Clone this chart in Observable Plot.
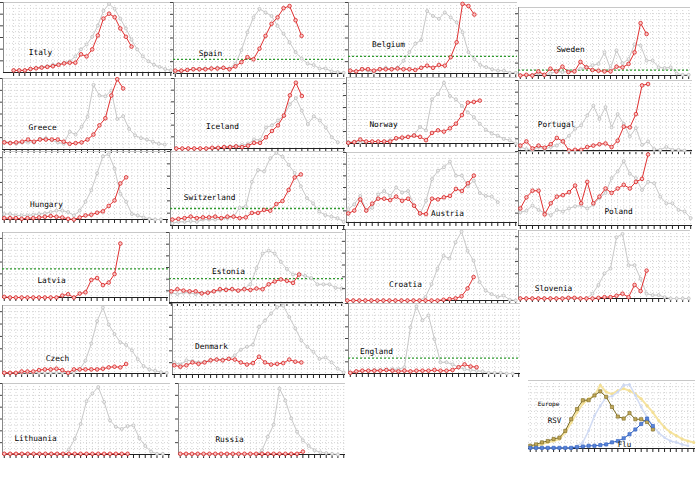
<!DOCTYPE html>
<html><head><meta charset="utf-8">
<script src="https://cdn.jsdelivr.net/npm/d3@7"></script>
<script src="https://cdn.jsdelivr.net/npm/@observablehq/plot@0.6"></script>
<style>
body{margin:0;background:#fff}
#wrap{position:relative;width:700px;height:500px;overflow:hidden;background:#fff}
#wrap svg{position:absolute}
</style>
</head><body><div id="wrap"></div>
<script>
// ---- data: grey = previous season, red = current season (% of panel scale) ----
const italyPrev = [3,3,3,5,6,8,9,11,12,14,16,23,33,40,51,67,88,98,91,77,63,47,33,23,16,11,8,5,3];
const italyCur  = [3,3,3,5,6,7,8,9,11,13,14,14,26,23,33,53,77,84,79,63,51,37];
const spainPrev = [2,3,5,6,6,7,7,8,8,7,14,33,58,79,91,86,81,67,56,44,30,21,14,12,7,7,3,2,1];
const spainCur  = [4,4,5,6,6,6,7,7,8,6,10,16,23,20,35,53,70,79,92,95,75,53];
const belgiumPrev = [4,3,6,4,1,6,8,6,8,18,30,42,47,88,81,77,86,79,72,58,30,20,12,9,6,4,4,1,1];
const belgiumCur  = [4,3,6,6,4,6,6,6,7,6,6,5,8,11,8,12,11,23,44,98,95,83];
const swedenPrev = [0,0,1,3,1,3,6,5,6,7,10,12,15,17,34,10,37,18,24,46,44,22,22,12,11,12,3,1,1];
const swedenCur  = [0,1,0,6,1,10,6,13,5,6,20,12,8,7,6,6,13,12,17,34,77,61];
const greecePrev = [11,10,8,10,11,10,15,16,13,10,8,25,21,32,46,91,76,75,83,43,47,29,20,16,14,11,8,7];
const greeceCur  = [10,9,10,11,14,11,14,14,14,14,11,8,9,10,14,21,34,44,76,99,86];
const icelandPrev = [0,0,0,0,0,0,1,1,2,3,4,5,6,13,12,30,33,40,47,63,72,54,35,46,40,30,16,9];
const icelandCur  = [0,0,0,0,0,0,1,1,2,2,3,2,4,8,8,16,25,33,47,76,94,75];
const norwayPrev = [2,3,2,3,3,3,3,5,7,8,10,13,25,20,67,75,92,72,67,57,47,40,30,21,15,12,7,5,0];
const norwayCur  = [1,2,6,3,3,3,3,3,8,9,10,12,10,5,16,20,18,23,30,43,62,63,65];
const portugalPrev = [5,2,0,5,2,5,7,14,21,31,36,50,64,45,62,33,52,38,20,32,8,13,2,1,5,1,1,0];
const portugalCur  = [7,13,3,7,4,9,18,13,0,1,1,5,7,9,10,5,14,34,33,52,93,95];
const hungaryPrev = [8,8,6,6,6,7,8,9,11,13,13,11,6,13,26,43,68,93,96,75,38,26,8,6,3,1,0,0];
const hungaryCur  = [2,2,2,1,2,2,3,4,5,4,3,1,0,3,6,7,10,12,20,28,53,62];
const switzerlandPrev = [3,5,5,6,5,8,8,8,9,10,12,24,26,59,75,73,91,98,93,82,71,53,37,30,19,14,12,10,5];
const switzerlandCur  = [8,9,10,12,10,11,11,12,10,12,12,10,11,17,17,21,20,29,33,48,65,69];
const austriaPrev = [19,26,38,17,21,40,45,38,50,43,45,24,12,31,62,74,79,87,67,67,52,60,42,38,37,29];
const austriaCur  = [13,17,33,17,27,34,34,32,37,31,34,24,13,12,34,33,36,38,48,45,56,67];
const polandPrev = [18,20,27,21,17,14,21,19,23,26,27,23,28,37,44,64,73,87,70,64,48,59,57,39,30,30,21,19,10];
const polandCur  = [23,38,47,47,15,30,39,41,45,54,30,59,30,39,50,44,50,55,50,59,63,96];
const latviaPrev = [];
const latviaCur  = [1,0,0,0,0,0,0,0,0,0,3,5,0,6,8,27,30,19,23,36,83];
const estoniaPrev = [14,12,14,14,12,14,14,16,17,19,19,17,20,26,49,70,74,70,58,48,40,40,38,35,26,26,26,21,20];
const estoniaCur  = [16,19,17,16,16,13,14,16,19,18,19,17,19,18,20,19,26,30,33,31,28,40];
const croatiaPrev = [0,0,0,0,0,0,0,0,0,0,0,0,0,5,23,45,63,59,82,97,70,56,26,14,9,5,7,1,0];
const croatiaCur  = [0,0,0,0,0,0,0,0,0,0,0,0,0,0,0,0,1,2,3,6,17,33];
const sloveniaPrev = [0,0,0,0,0,0,0,0,0,0,0,0,7,20,37,44,90,95,49,49,29,7,5,5,2,0,0,0,0];
const sloveniaCur  = [0,0,0,0,0,0,0,0,1,1,0,0,0,1,2,2,4,7,2,20,11,41];
const czechPrev = [1,1,1,1,1,1,1,1,1,1,1,1,1,6,19,44,77,97,72,58,46,42,34,21,11,6,4,2,1];
const czechCur  = [1,1,1,3,3,3,5,6,6,7,5,1,6,6,6,6,6,7,9,10,9,14];
const denmarkPrev = [17,14,20,19,17,18,20,21,21,22,27,35,39,42,67,76,86,95,97,81,65,48,39,32,22,24,17,8,3];
const denmarkCur  = [13,11,13,17,15,17,20,21,20,22,21,17,14,16,25,17,14,15,16,21,18,17];
const englandPrev = [1,3,4,4,5,5,5,6,6,9,66,96,76,83,49,16,16,13,9,6,5,4,3,1,1,1,0,0];
const englandCur  = [1,3,4,4,4,4,5,4,3,4,3,4,4,4,5,4,4,5,9,13,10,9];
const lithuaniaPrev = [1,1,1,1,1,1,1,1,1,1,1,7,22,43,75,86,95,74,48,39,36,40,41,23,12,4,1,1];
const lithuaniaCur  = [1,1,1,1,1,1,1,1,1,1,1,1,1,1,1,1,1,1,1,1,1,1];
const russiaPrev = [0,0,0,0,0,0,0,0,0,0,0,0,0,0,6,25,42,93,76,51,32,20,12,6,3,2,1,0];
const russiaCur  = [1,1,1,1,1,1,1,1,1,1,1,1,1,1,1,1,1,1,1,1,1,4];
// Europe summary
const europeRsvCur  = [4,6,9,11,14,16,26,43,58,71,71,78,84,76,61,47,44,52,43,43,39,28];
const europeRsvPrev = [3,4,6,9,11,14,24,38,53,66,73,78,93,83,80,85,88,85,80,73,63,53,41,31,24,19,14,11,9];
const europeFluPrev = [1,1,1,1,1,1,1,1,4,9,26,48,63,75,77,83,93,94,78,61,46,33,23,16,11,9,6,4];
const europeFluCur  = [1,1,1,1,1,1,1,1,2,3,4,4,5,6,9,11,15,21,28,36,44,33];
// thresholds (green dotted lines)
const thresholdNames  = ["Spain","Belgium","Sweden","Switzerland","Latvia","Estonia","England"];
const thresholdValues = [20,24,8,23,44,34,22];
const weeks = d3.range(0, 29);

// ---- layout (page pixels) ----
const panels = [
 {name:"Italy", prev:italyPrev, cur:italyCur, L:3,T:2,R:172,B:72, lx:40,ly:49, x0:-1.8},
 {name:"Spain", prev:spainPrev, cur:spainCur, L:173,T:2,R:345,B:73, lx:210,ly:50},
 {name:"Belgium", prev:belgiumPrev, cur:belgiumCur, L:348,T:2,R:517,B:73, lx:388,ly:41},
 {name:"Sweden", prev:swedenPrev, cur:swedenCur, L:518,T:7,R:690,B:75, lx:570,ly:46},
 {name:"Greece", prev:greecePrev, cur:greeceCur, L:2,T:78,R:172,B:149, lx:42,ly:124},
 {name:"Iceland", prev:icelandPrev, cur:icelandCur, L:174,T:78,R:345,B:148, lx:222,ly:123},
 {name:"Norway", prev:norwayPrev, cur:norwayCur, L:346,T:77,R:517,B:143, lx:383,ly:121},
 {name:"Portugal", prev:portugalPrev, cur:portugalCur, L:518,T:80,R:692,B:150, lx:556,ly:121},
 {name:"Hungary", prev:hungaryPrev, cur:hungaryCur, L:2,T:151,R:168,B:219, lx:46,ly:201},
 {name:"Switzerland", prev:switzerlandPrev, cur:switzerlandCur, L:170,T:151,R:345,B:225, lx:209,ly:194},
 {name:"Austria", prev:austriaPrev, cur:austriaCur, L:346,T:152,R:517,B:222, lx:447,ly:210},
 {name:"Poland", prev:polandPrev, cur:polandCur, L:518,T:151,R:692,B:225, lx:618,ly:208},
 {name:"Latvia", prev:latviaPrev, cur:latviaCur, L:2,T:232,R:168,B:297, lx:51,ly:277},
 {name:"Estonia", prev:estoniaPrev, cur:estoniaCur, L:169,T:232,R:343,B:302, lx:228,ly:268},
 {name:"Croatia", prev:croatiaPrev, cur:croatiaCur, L:345,T:229,R:517,B:300, lx:405,ly:281},
 {name:"Slovenia", prev:sloveniaPrev, cur:sloveniaCur, L:518,T:230,R:690,B:298, lx:553,ly:285},
 {name:"Czech", prev:czechPrev, cur:czechCur, L:2,T:305,R:168,B:373, lx:57,ly:355},
 {name:"Denmark", prev:denmarkPrev, cur:denmarkCur, L:172,T:303,R:345,B:374, lx:211,ly:343},
 {name:"England", prev:englandPrev, cur:englandCur, L:348,T:303,R:520,B:373, lx:376,ly:348},
 {name:"Lithuania", prev:lithuaniaPrev, cur:lithuaniaCur, L:2,T:383,R:170,B:454, lx:35,ly:435},
 {name:"Russia", prev:russiaPrev, cur:russiaCur, L:178,T:383,R:345,B:454, lx:229,ly:436}
];

const wrap = document.getElementById("wrap");
const font = "'DejaVu Sans Mono', monospace";
const toRows = arr => arr.map((v, i) => ({i, v}));

function frameMarks(p, x0, leftAxis) {
  const n = Math.max(2, Math.round((p.B - p.T) / 6));
  const gy = d3.range(1, n + 1).map(i => i * 100 / n);
  const ay = gy.filter((d, i) => i % 2 === 1);
  const m = [
    Plot.gridX({ticks: weeks, stroke: "#d4d4d4", strokeOpacity: 1, strokeDasharray: "1,2"}),
    Plot.gridY({ticks: gy, stroke: "#d4d4d4", strokeOpacity: 1, strokeDasharray: "1,2"}),
    Plot.ruleY([100], {stroke: "#c8c8c8"}),
    Plot.axisX({ticks: weeks, tickSize: 4, tickFormat: () => "", label: null, stroke: "#222"}),
    Plot.ruleY([0], {stroke: "#222"})
  ];
  if (leftAxis) {
    m.push(Plot.axisY({ticks: ay, tickSize: 3, tickFormat: () => "", label: null, stroke: "#444"}));
    m.push(Plot.ruleX([x0], {stroke: "#888"}));
  }
  return m;
}

function place(svg, left, top) {
  svg.style.left = left + "px";
  svg.style.top = top + "px";
  wrap.appendChild(svg);
}

const mL = 4, mR = 2, mT = 2, mB = 6;
for (const p of panels) {
  const x0 = p.x0 ?? -0.3, x1 = 28.3;
  const marks = frameMarks(p, x0, true);
  const ti = thresholdNames.indexOf(p.name);
  if (ti >= 0) marks.push(Plot.ruleY([thresholdValues[ti]], {stroke: "#2e9a2e", strokeWidth: 1.3, strokeDasharray: "2,2"}));
  if (p.prev.length) {
    marks.push(Plot.line(toRows(p.prev), {x: "i", y: "v", stroke: "#c8c8c8", strokeWidth: 1}));
    marks.push(Plot.dot(toRows(p.prev), {x: "i", y: "v", r: 1.5, stroke: "#bcbcbc", fill: "#f0f0f0", strokeWidth: 0.8}));
  }
  marks.push(Plot.line(toRows(p.cur), {x: "i", y: "v", stroke: "#e03030", strokeWidth: 1}));
  marks.push(Plot.dot(toRows(p.cur), {x: "i", y: "v", r: 1.8, stroke: "#d82020", fill: "#f7c4c4", strokeWidth: 0.8}));
  marks.push(Plot.text([p.name], {frameAnchor: "top-left", dx: p.lx - p.L, dy: p.ly - p.T,
    text: d => d, textAnchor: "middle", fontSize: 7.8, fontFamily: font, fill: "#000"}));
  const svg = Plot.plot({
    width: p.R - p.L + mL + mR, height: p.B - p.T + mT + mB,
    marginLeft: mL, marginRight: mR, marginTop: mT, marginBottom: mB,
    x: {domain: [x0, x1], axis: null}, y: {domain: [0, 100], axis: null},
    style: {background: "transparent", overflow: "visible"},
    marks
  });
  place(svg, p.L - mL, p.T - mT);
}

// Europe summary panel
{
  const p = {L: 528, T: 380, R: 695, B: 448};
  const x0 = -0.3, x1 = 28.3;
  const marks = frameMarks(p, x0, false);
  marks.push(
    Plot.line(toRows(europeRsvPrev), {x: "i", y: "v", stroke: "#f6e4a0", strokeWidth: 2}),
    Plot.dot(toRows(europeRsvPrev), {x: "i", y: "v", r: 1.5, fill: "#f3df95", stroke: "none"}),
    Plot.line(toRows(europeFluPrev), {x: "i", y: "v", stroke: "#d2dcf4", strokeWidth: 1.5}),
    Plot.dot(toRows(europeFluPrev), {x: "i", y: "v", r: 1.4, fill: "#cdd8f2", stroke: "none"}),
    Plot.line(toRows(europeRsvCur), {x: "i", y: "v", stroke: "#7a6a20", strokeWidth: 1}),
    Plot.dot(toRows(europeRsvCur), {x: "i", y: "v", symbol: "square", r: 1.8, fill: "#c2a85a", stroke: "#7a6a20", strokeWidth: 0.6}),
    Plot.line(toRows(europeFluCur), {x: "i", y: "v", stroke: "#2f5fc0", strokeWidth: 1}),
    Plot.dot(toRows(europeFluCur), {x: "i", y: "v", symbol: "square", r: 1.8, fill: "#5a84d8", stroke: "#2f5fc0", strokeWidth: 0.6}),
    Plot.text(["Europe"], {frameAnchor: "top-left", dx: 20, dy: 21, text: d => d, textAnchor: "middle", fontSize: 6, fontFamily: font, fill: "#000"}),
    Plot.text(["RSV"], {frameAnchor: "top-left", dx: 26, dy: 37, text: d => d, textAnchor: "middle", fontSize: 7.5, fontFamily: font, fill: "#000"}),
    Plot.text(["Flu"], {frameAnchor: "top-left", dx: 96, dy: 61, text: d => d, textAnchor: "middle", fontSize: 7.5, fontFamily: font, fill: "#000"})
  );
  const svg = Plot.plot({
    width: p.R - p.L + mL + mR, height: p.B - p.T + mT + mB,
    marginLeft: mL, marginRight: mR, marginTop: mT, marginBottom: mB,
    x: {domain: [x0, x1], axis: null}, y: {domain: [0, 100], axis: null},
    style: {background: "transparent", overflow: "visible"},
    marks
  });
  place(svg, p.L - mL, p.T - mT);
}
</script>
</body></html>
